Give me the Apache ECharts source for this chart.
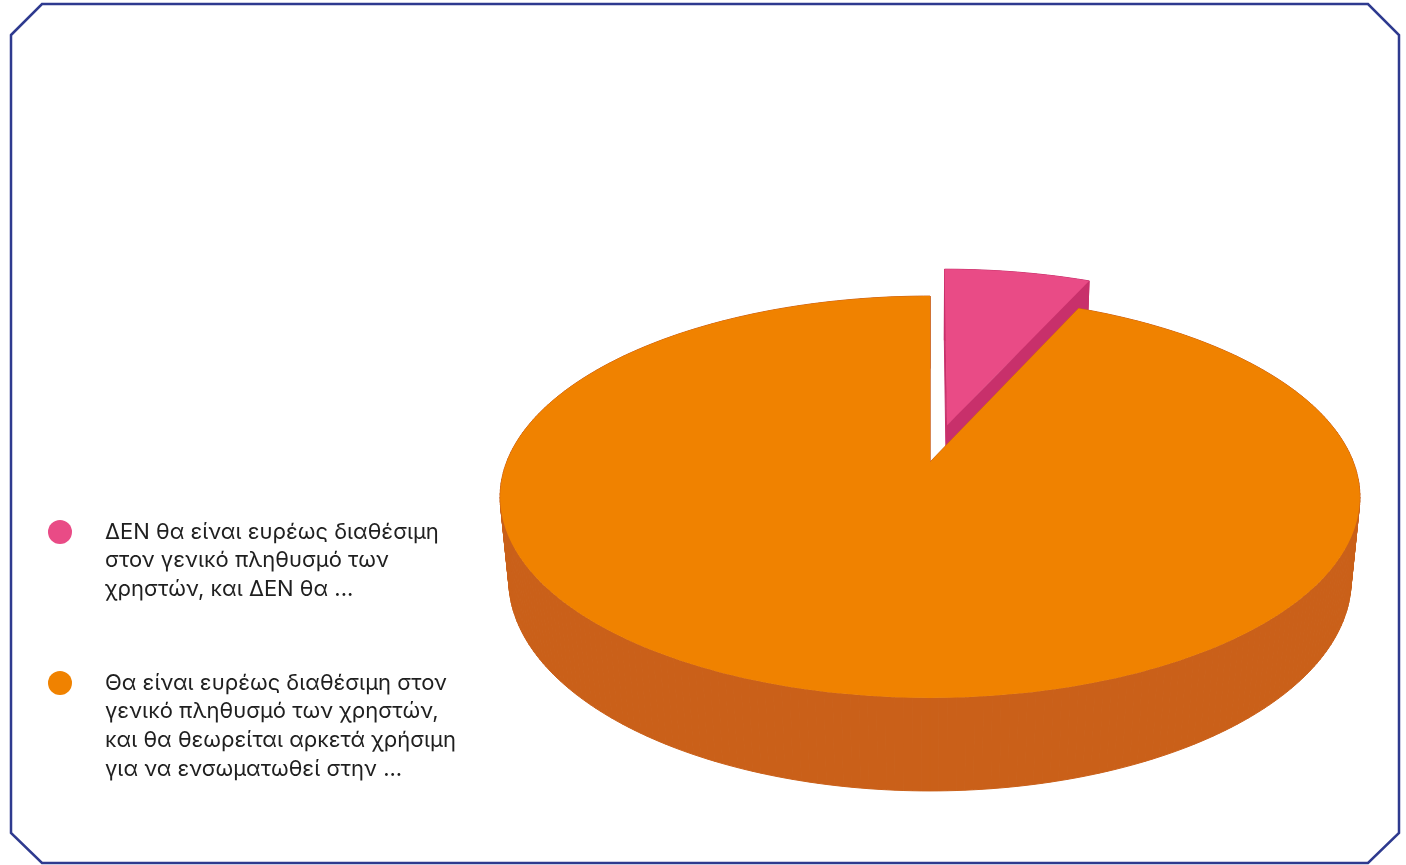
<!DOCTYPE html>
<html>
<head>
<meta charset="utf-8">
<title>3D pie</title>
<script src="https://cdn.jsdelivr.net/npm/echarts@6/dist/echarts.min.js"></script>
<style>
  html, body { margin: 0; padding: 0; background: #fff; }
  #chart { width: 1406px; height: 865px; }
</style>
</head>
<body>
<div id="chart"></div>
<script>
// legend labels, one entry per line as shown in the picture
var categoryLines = [
  ['ΔΕΝ θα είναι ευρέως διαθέσιμη', 'στον γενικό πληθυσμό των', 'χρηστών, και ΔΕΝ θα ...'],
  ['Θα είναι ευρέως διαθέσιμη στον', 'γενικό πληθυσμό των χρηστών,', 'και θα θεωρείται αρκετά χρήσιμη', 'για να ενσωματωθεί στην ...']
];
var categories = categoryLines.map(function (l) { return l.join(' '); });
var values = [1, 14];

var topColors = ['#E94B86', '#F08200'];
var sideColors = ['#C8306B', '#CA6019'];
var explode = [0.2, 0];

// fake 3d: camera looking down on a flat cylinder (unit = pie radius)
var CX = 930, CY = 462;
var FOCAL = 2159;
var CAM_DIST = 5.1;
var TILT = 27.4 * Math.PI / 180;
var DEPTH = 0.222;
var SIN_T = Math.sin(TILT), COS_T = Math.cos(TILT);

function project(x, y, v) {
  // x right, y up, v away from the viewer
  var zc = CAM_DIST + v * COS_T - y * SIN_T;
  var yc = y * COS_T + v * SIN_T;
  return [CX + FOCAL * x / zc, CY - FOCAL * yc / zc];
}

function makeSlice(idx) {
  return function (params, api) {
    var total = 0, before = 0;
    for (var j = 0; j < values.length; j++) {
      total += values[j];
      if (j < idx) before += values[j];
    }
    // angles clockwise from the back of the pie
    var a0 = before / total * Math.PI * 2;
    var a1 = (before + api.value(0)) / total * Math.PI * 2;
    var mid = (a0 + a1) / 2;
    var ox = explode[idx] * Math.sin(mid);
    var ov = explode[idx] * Math.cos(mid);
    var n = Math.max(8, Math.ceil((a1 - a0) / (Math.PI / 180)));
    var topArc = [], botArc = [];
    for (var k = 0; k <= n; k++) {
      var t = a0 + (a1 - a0) * k / n;
      topArc.push(project(ox + Math.sin(t), 0, ov + Math.cos(t)));
      botArc.push(project(ox + Math.sin(t), -DEPTH, ov + Math.cos(t)));
    }
    var apexTop = project(ox, 0, ov);
    var apexBot = project(ox, -DEPTH, ov);
    var base = Math.round((1 - Math.cos(mid)) * 100) * 4;
    var side = { fill: sideColors[idx], stroke: sideColors[idx], lineWidth: 1 };

    var children = [];
    // outer wall as thin strips so the silhouette stays straight
    for (var s = 0; s < n; s++) {
      children.push({
        type: 'polygon', z2: base,
        shape: { points: [topArc[s], topArc[s + 1], botArc[s + 1], botArc[s]] },
        style: side
      });
    }
    children.push({
      type: 'polygon', z2: base + 1,
      shape: { points: [apexTop, topArc[0], botArc[0], apexBot] },
      style: side
    });
    children.push({
      type: 'polygon', z2: base + 1,
      shape: { points: [apexTop, topArc[n], botArc[n], apexBot] },
      style: side
    });
    children.push({
      type: 'polygon', z2: base + 2,
      shape: { points: [apexTop].concat(topArc) },
      style: { fill: topColors[idx] }
    });

    return { type: 'group', children: children };
  };
}

var LINE_H = 28.7;
var legendIconY = [532, 683];

var chart = echarts.init(document.getElementById('chart'));

var option = {
  animation: false,
  backgroundColor: '#fff',
  graphic: [{
    type: 'polygon',
    silent: true,
    shape: {
      points: [[11, 35], [42, 4], [1368, 4], [1399, 35], [1399, 833], [1368, 863], [42, 863], [11, 833]]
    },
    style: { fill: 'none', stroke: '#2E3A8F', lineWidth: 2.5 }
  }],
  legend: categories.map(function (name, i) {
    var n = categoryLines[i].length;
    var boxH = (2 * n - 1) * LINE_H;
    return {
      orient: 'vertical',
      left: 48,
      top: legendIconY[i] - boxH / 2,
      padding: 0,
      icon: 'circle',
      itemWidth: 24,
      itemHeight: 24,
      selectedMode: false,
      data: [name],
      formatter: function (nm) {
        var lines = categoryLines[categories.indexOf(nm)];
        // blank lines on top keep the first line level with the dot
        var pad = [];
        for (var p = 1; p < lines.length; p++) pad.push(' ');
        return pad.concat(lines).join('\n');
      },
      textStyle: {
        fontFamily: 'Inter',
        fontSize: 22,
        color: '#1f1f1f',
        lineHeight: LINE_H,
        padding: [0, 0, 0, 28]
      }
    };
  }),
  series: categories.map(function (name, i) {
    return {
      type: 'custom',
      name: name,
      coordinateSystem: 'none',
      silent: true,
      itemStyle: { color: topColors[i] },
      data: [values[i]],
      renderItem: makeSlice(i)
    };
  })
};

chart.setOption(option);
</script>
</body>
</html>
